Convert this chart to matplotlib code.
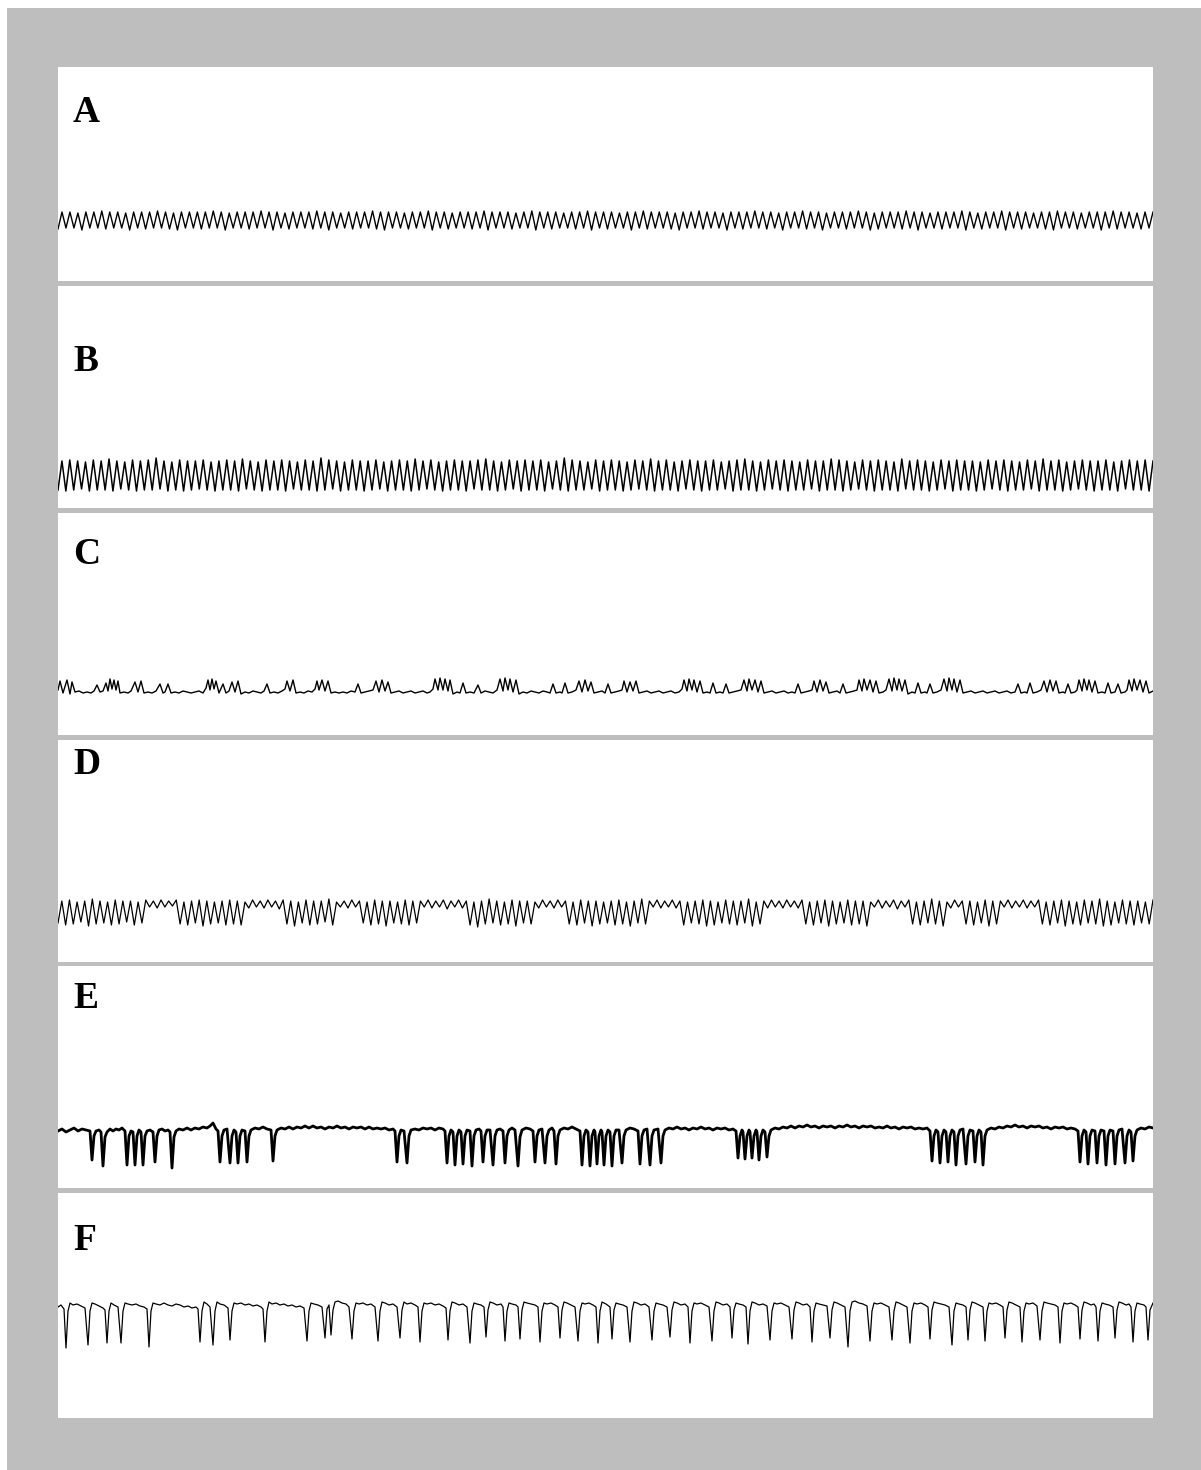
import matplotlib.pyplot as plt
from matplotlib.patches import Rectangle
import numpy as np

# ---- traces (deflection in px, positive = up) ----
# A: regular oscillation, one peak/trough per cycle
A_peaks = [
    8, 8, 7, 8, 8, 9, 8, 8, 7, 8, 8, 8, 9, 8, 7, 8, 8, 8, 8, 9, 8, 7, 8,
    8, 8, 9, 8, 8, 7, 8, 8, 8, 9, 8, 8, 7, 8, 8, 8, 9, 8, 8, 8, 7, 8, 8,
    9, 8, 8, 7, 8, 8, 8, 9, 8, 8, 8, 7, 8, 9, 8, 8, 8, 7, 8, 8, 9, 8, 8,
    8, 7, 8, 8, 9, 8, 8, 8, 7, 8, 8, 9, 8, 8, 7, 8, 8, 8, 9, 8, 8, 7, 8,
    8, 9, 8, 8, 7, 8, 8, 8, 9, 8, 7, 8, 8, 8, 9, 8, 8, 7, 8, 8, 8, 9, 8,
    7, 8, 8, 9, 8, 8, 8, 7, 8, 8, 9, 8, 8, 7, 8, 8, 8, 9, 8, 8, 7, 8, 8,
]
A_troughs = [
    -9, -8, -8, -10, -8, -8, -9, -8, -8, -10, -8, -9, -8, -8, -9, -10, -8, -8, -9, -8, -8, -10, -8,
    -8, -9, -8, -8, -10, -8, -9, -8, -8, -9, -8, -10, -8, -8, -9, -8, -8, -9, -10, -8, -8, -9, -8,
    -8, -10, -8, -9, -8, -8, -9, -8, -10, -8, -8, -9, -8, -8, -10, -8, -9, -8, -8, -9, -8, -10, -8,
    -9, -8, -8, -10, -8, -9, -8, -8, -9, -10, -8, -8, -9, -8, -8, -10, -8, -9, -8, -8, -9, -8, -10,
    -8, -8, -9, -8, -10, -8, -8, -9, -8, -8, -10, -9, -8, -8, -9, -8, -10, -8, -8, -9, -8, -8, -10,
    -8, -9, -8, -8, -10, -8, -9, -8, -8, -9, -10, -8, -8, -9, -8, -8, -10, -8, -9, -8, -8, -9, -8,
]

# B: faster, larger oscillation
B_peaks = [
    14, 15, 14, 13, 15, 14, 16, 14, 13, 15, 14, 15, 17, 14, 13, 15, 14, 14, 15, 13,
    14, 15, 14, 16, 14, 13, 15, 14, 15, 14, 13, 15, 14, 17, 15, 14, 13, 15, 14, 14,
    15, 13, 14, 15, 14, 16, 14, 15, 13, 14, 15, 14, 14, 15, 16, 14, 13, 15, 14, 15,
    14, 15, 13, 14, 17, 15, 14, 13, 15, 14, 15, 14, 13, 15, 14, 16, 14, 15, 13, 14,
    15, 14, 14, 15, 13, 14, 15, 16, 14, 13, 15, 14, 15, 14, 13, 15, 14, 14, 16, 15,
    14, 13, 15, 14, 15, 14, 13, 16, 14, 15, 14, 13, 15, 14, 15, 14, 14, 13, 15, 14,
    15, 14, 13, 15, 14, 16, 14, 15, 13, 14, 15, 14, 14, 15, 13, 14, 15, 14, 15, 14,
]
B_troughs = [
    -15, -16, -15, -14, -16, -15, -15, -16, -14, -15, -16, -15, -15, -14, -16, -15, -16, -15, -14, -15,
    -16, -15, -15, -16, -14, -15, -16, -15, -15, -16, -14, -15, -15, -16, -15, -14, -16, -15, -15, -16,
    -15, -14, -16, -15, -15, -16, -15, -14, -15, -16, -15, -15, -16, -14, -15, -15, -16, -15, -14, -16,
    -15, -15, -16, -14, -15, -16, -15, -15, -14, -16, -15, -15, -16, -15, -14, -15, -16, -15, -15, -16,
    -14, -15, -16, -15, -15, -14, -16, -15, -15, -16, -15, -14, -15, -16, -15, -15, -14, -16, -15, -15,
    -16, -15, -14, -15, -16, -15, -15, -16, -14, -15, -15, -16, -15, -14, -16, -15, -15, -16, -15, -14,
    -15, -16, -15, -15, -14, -16, -15, -15, -16, -15, -14, -15, -16, -15, -15, -16, -14, -15, -15, -16,
]

# C: bursts of spikes on a flat baseline, (time, value)
C_points = [
    (0, 2), (2, 11), (5, -1), (9, 12), (12, -2), (14, 10), (17, 0), (21, 1), (25, -1), (29, 0),
    (33, -1), (36, 1), (39, 7), (42, 0), (45, 1), (48, 9), (50, 1), (52, 13), (54, 3), (56, 12),
    (58, 2), (60, 11), (62, -1), (66, 0), (70, -1), (73, 1), (77, 10), (80, 0), (83, 11), (86, -1),
    (90, 0), (94, -1), (98, 1), (102, 8), (105, -1), (107, 0), (110, 8), (113, -1), (117, 0), (121, -1),
    (125, 1), (129, 0), (133, -1), (137, 0), (141, 1), (145, -1), (148, 4), (150, 12), (152, 2), (154, 13),
    (156, 3), (158, 11), (161, -1), (165, 8), (168, -1), (171, 1), (174, 10), (177, 0), (180, 11), (183, -2),
    (187, 0), (191, -1), (195, 1), (199, 0), (203, -1), (206, 1), (209, 8), (212, -1), (216, 0), (220, -1),
    (224, 1), (227, 3), (229, 11), (232, 1), (235, 12), (238, -1), (242, 0), (246, -1), (250, 1), (254, 0),
    (257, 3), (259, 11), (261, 2), (264, 12), (267, 1), (270, 11), (273, -1), (277, 0), (281, -1),
    (285, 0), (289, -1), (293, 1), (297, 0), (300, 8), (303, -1), (307, 0), (311, 1), (315, 2), (318, 11),
    (321, 0), (324, 12), (327, 1), (330, 10), (333, -1), (337, 0), (341, 1), (345, -1), (349, 0), (353, 1),
    (357, -1), (361, 0), (365, 1), (369, -1), (372, 0), (375, 3), (377, 13), (380, 2), (382, 14), (385, 2),
    (387, 13), (390, 1), (392, 12), (395, -2), (399, 0), (402, -1), (405, 9), (408, -1), (412, 0), (416, -1),
    (420, 7), (423, -1), (427, 1), (431, 0), (435, -1), (439, 2), (442, 13), (445, 1), (447, 14), (450, 2),
    (452, 13), (455, 0), (458, 12), (461, -2), (465, 0), (469, -1), (473, 1), (477, 0), (481, -1), (485, 1),
    (489, 0), (492, -1), (495, 8), (498, -1), (502, 0), (504, -1), (507, 9), (510, -1), (514, 0), (518, 2),
    (521, 11), (524, 0), (527, 12), (530, 1), (533, 10), (536, -1), (540, 0), (544, 1), (547, -1), (550, 8),
    (553, -1), (557, 0), (561, 1), (564, 2), (566, 11), (569, 0), (572, 10), (575, 1), (578, 11), (581, -1),
    (585, 0), (589, 1), (593, -1), (597, 0), (601, 1), (605, -1), (609, 0), (613, 1), (617, -1), (621, 0),
    (624, 3), (626, 12), (629, 1), (631, 13), (634, 2), (636, 12), (639, 0), (642, 11), (645, -1), (649, 0),
    (652, -1), (655, 9), (658, -1), (662, 0), (665, -1), (668, 8), (671, -1), (675, 0), (679, 1), (683, 2),
    (686, 12), (689, 1), (691, 13), (694, 2), (697, 12), (700, 0), (703, 11), (706, -1), (710, 0), (714, 1),
    (718, -1), (722, 0), (726, 1), (730, -1), (734, 0), (737, -1), (740, 8), (743, -1), (747, 0), (751, 1),
    (754, 2), (756, 11), (759, 0), (762, 12), (765, 1), (768, 10), (771, -1), (775, 0), (779, 1), (782, -1),
    (785, 8), (788, -1), (792, 0), (796, 1), (799, 2), (801, 12), (804, 1), (806, 13), (809, 2), (812, 12),
    (815, 0), (818, 11), (821, -1), (825, 0), (828, 2), (831, 13), (834, 1), (836, 14), (839, 2), (841, 13),
    (844, 1), (847, 12), (850, -2), (854, 0), (857, -1), (860, 9), (863, -1), (867, 0), (869, -1), (872, 8),
    (875, -1), (879, 0), (883, 2), (886, 13), (889, 1), (891, 14), (894, 2), (896, 13), (899, 0), (902, 12),
    (905, -1), (909, 0), (913, 1), (917, -1), (921, 0), (925, 1), (929, -1), (933, 0), (937, 1), (941, -1),
    (945, 0), (949, 1), (953, -1), (957, 0), (960, 8), (963, -1), (967, 0), (969, -1), (972, 9), (975, -1),
    (979, 0), (983, 2), (986, 11), (989, 0), (992, 12), (995, 1), (998, 11), (1001, -1), (1005, 0), (1007, -1),
    (1010, 8), (1013, -1), (1017, 0), (1019, 2), (1021, 12), (1024, 1), (1026, 13), (1029, 2), (1031, 12), (1034, 0),
    (1037, 11), (1040, -1), (1044, 0), (1047, -1), (1050, 9), (1053, -1), (1057, 0), (1060, 8), (1063, -1), (1067, 0),
    (1069, 2), (1071, 12), (1074, 1), (1076, 13), (1079, 2), (1082, 12), (1085, 0), (1088, 11), (1091, -1), (1095, 1),
]

# D: large oscillation with short low-amplitude runs
D_peaks = [
    2, 3, 1, 2, 4, 2, 1, 3, 2, 2, 1, 3, 2, 3, 2, 3, 1, 2, 3, 2, 1, 2, 3, 2,
    1, 3, 2, 3, 2, 3, 2, 1, 3, 2, 2, 4, 1, 2, 3, 2, 1, 3, 2, 2, 1, 3, 2, 2,
    3, 2, 3, 2, 3, 2, 1, 2, 4, 2, 1, 3, 2, 2, 1, 3, 2, 3, 2, 1, 3, 2, 2, 1,
    2, 3, 1, 2, 4, 2, 3, 2, 3, 2, 1, 2, 3, 2, 1, 3, 2, 2, 4, 1, 2, 3, 2, 3,
    2, 3, 1, 2, 3, 2, 1, 3, 2, 2, 1, 3, 2, 3, 2, 3, 1, 2, 4, 2, 1, 3, 2, 2,
    1, 3, 2, 2, 3, 2, 3, 2, 3, 1, 2, 3, 2, 1, 3, 2, 4, 2, 1, 3, 2, 2, 1, 3,
]
D_troughs = [
    -20, -22, -21, -19, -23, -21, -20, -22, -21, -19, -22, -20, -4, -5, -4, -3, -21, -22, -20, -23, -21, -20, -22, -21,
    -22, -5, -4, -5, -4, -6, -21, -23, -20, -22, -21, -19, -22, -4, -5, -4, -20, -22, -21, -23, -20, -21, -22, -20,
    -4, -5, -4, -6, -4, -5, -22, -24, -21, -20, -22, -21, -23, -20, -21, -5, -4, -5, -4, -21, -22, -20, -23, -21,
    -20, -22, -21, -23, -20, -21, -4, -5, -4, -5, -22, -20, -21, -23, -22, -20, -21, -22, -20, -23, -21, -5, -4, -5,
    -4, -5, -21, -22, -20, -23, -21, -20, -22, -21, -23, -4, -5, -4, -6, -4, -21, -22, -20, -21, -23, -5, -4, -21,
    -22, -20, -23, -21, -4, -5, -4, -5, -4, -21, -22, -20, -23, -21, -22, -20, -21, -23, -22, -20, -21, -22, -20, -21,
]

# E: clusters of deep dips on a noisy baseline, (time, value)
E_points = [
    (0, 1), (4, 3), (8, 0), (12, 2), (16, 4), (20, 1), (24, 3), (28, 2), (32, 1),
    (34, -28), (36, -4), (38, 1), (41, 2), (43, 0), (45, -34), (47, -5), (49, 0), (52, 3), (55, 1), (58, 3),
    (61, 2), (64, 4), (67, 1), (69, -33), (71, -4), (73, 1), (75, 0), (77, -33), (79, -4), (81, 2),
    (83, 0), (85, -33), (87, -4), (89, 1), (92, 2), (95, 0), (97, -30), (99, -4), (101, 2), (104, 3),
    (107, 1), (110, 2), (112, 0), (114, -36), (116, -5), (118, 1), (121, 3), (125, 2), (129, 4), (133, 2),
    (137, 4), (141, 3), (145, 5), (149, 4), (152, 6), (155, 9), (158, 3), (160, 1),
    (162, -30), (164, -4), (166, 2), (169, 3), (172, -31), (174, -4), (176, 2), (178, 0), (180, -31), (182, -4),
    (184, 2), (187, 1), (189, -30), (191, -4), (193, 2), (197, 4), (201, 3), (205, 5), (209, 3), (213, 2),
    (215, -29), (217, -4), (219, 2), (223, 4), (227, 3), (231, 5), (235, 3), (239, 5), (243, 4), (247, 6),
    (251, 4), (255, 6), (259, 4), (263, 5), (267, 3), (271, 5), (275, 4), (279, 6), (283, 4), (287, 5),
    (291, 3), (295, 5), (299, 4), (303, 5), (307, 3), (311, 5), (315, 3), (319, 4), (323, 3), (327, 4),
    (331, 2), (335, 3), (337, 1),
    (339, -30), (341, -4), (343, 2), (346, 1), (349, -31), (351, -4), (353, 2), (357, 3), (361, 2), (365, 4),
    (369, 3), (373, 4), (377, 2), (381, 4), (385, 3), (387, 1),
    (389, -31), (391, -4), (393, 2), (395, 0), (397, -33), (399, -4), (401, 2), (403, 0), (405, -32), (407, -4),
    (409, 2), (412, 1), (414, -34), (416, -4), (418, 2), (421, 3), (423, 1), (425, -30), (427, -4), (429, 2),
    (432, 2), (435, -33), (437, -4), (439, 2), (442, 3), (445, 1), (447, -31), (449, -4), (451, 2), (454, 4),
    (457, 2), (460, -34), (462, -5), (464, 2), (468, 4), (472, 3), (475, 1),
    (477, -30), (479, -4), (481, 2), (484, 3), (487, -31), (489, -4), (491, 2), (494, 4), (496, 1), (498, -32),
    (500, -4), (502, 2), (506, 4), (510, 3), (514, 5), (518, 3), (522, 1),
    (524, -33), (526, -4), (528, 2), (530, 0), (532, -34), (534, -4), (536, 2), (537, 0), (539, -32), (541, -4),
    (543, 2), (544, 0), (546, -33), (548, -4), (550, 2), (552, 0), (554, -34), (556, -4), (558, 2), (561, 2),
    (564, -31), (566, -4), (568, 2), (572, 4), (576, 3), (580, 1),
    (582, -32), (584, -4), (586, 2), (589, 3), (592, -33), (594, -4), (596, 2), (600, 3), (603, -31), (605, -4),
    (607, 2), (611, 4), (615, 3), (619, 5), (623, 3), (627, 4), (631, 2), (635, 4), (639, 3), (643, 5),
    (647, 3), (651, 4), (655, 2), (659, 4), (663, 3), (667, 4), (671, 2), (675, 3), (678, 1),
    (680, -26), (682, -4), (684, 2), (685, 0), (687, -27), (689, -4), (691, 2), (692, 0), (694, -26), (696, -4),
    (698, 2), (699, 0), (701, -28), (703, -4), (705, 2), (707, 0), (709, -25), (711, -4), (713, 2), (717, 4),
    (721, 3), (725, 5), (729, 4), (733, 6), (737, 4), (741, 6), (745, 5), (749, 7), (753, 5), (757, 6),
    (761, 4), (765, 6), (769, 5), (773, 6), (777, 4), (781, 6), (785, 5), (789, 7), (793, 5), (797, 6),
    (801, 4), (805, 6), (809, 5), (813, 6), (817, 4), (821, 5), (825, 4), (829, 6), (833, 4), (837, 5),
    (841, 3), (845, 5), (849, 4), (853, 5), (857, 3), (861, 4), (865, 3), (869, 4), (872, 1),
    (874, -29), (876, -4), (878, 2), (880, 0), (882, -31), (884, -4), (886, 2), (888, 0), (890, -30), (892, -4),
    (894, 2), (896, 0), (898, -33), (900, -4), (902, 2), (905, 3), (908, -32), (910, -4), (912, 2), (915, 1),
    (917, -30), (919, -4), (921, 2), (923, 0), (925, -33), (927, -4), (929, 2), (933, 4), (937, 3), (941, 5),
    (945, 4), (949, 6), (953, 5), (957, 7), (961, 5), (965, 6), (969, 4), (973, 6), (977, 5), (981, 6),
    (985, 4), (989, 5), (993, 3), (997, 5), (1001, 4), (1005, 5), (1009, 3), (1013, 4), (1017, 3), (1020, 1),
    (1022, -30), (1024, -4), (1026, 2), (1028, 0), (1030, -32), (1032, -4), (1034, 2), (1037, 1), (1039, -31), (1041, -4),
    (1043, 2), (1046, 1), (1048, -33), (1050, -4), (1052, 2), (1055, 1), (1057, -32), (1059, -4), (1061, 2), (1064, 3),
    (1067, -31), (1069, -4), (1071, 2), (1073, 0), (1075, -29), (1077, -4), (1079, 2), (1083, 4), (1087, 3), (1091, 5),
    (1095, 4),
]

# F: regularly spaced sharp downward spikes, (time, value)
F_points = [
    (0, -2), (3, 0), (6, -4), (8, -43), (10, -6), (12, 2), (15, 0), (19, 1), (23, -1), (27, -3),
    (30, -40), (32, -6), (34, 2), (37, 1), (41, -1), (45, -3), (47, -5), (49, -38), (51, -6), (53, 2),
    (56, 0), (60, -2), (63, -38), (65, -6), (67, 2), (70, 1), (74, 0), (78, 1), (82, -1), (86, -2),
    (89, -4), (91, -42), (93, -6), (95, 2), (98, 1), (102, 0), (106, 2), (110, 0), (114, -1), (118, 1),
    (122, 0), (126, -2), (130, -1), (134, -3), (138, -2), (140, -4), (142, -37), (144, -6), (146, 3), (149, 1),
    (152, -2), (155, -40), (157, -6), (159, 3), (162, 1), (166, 0), (170, -3), (172, -35), (174, -6), (176, 2),
    (179, 1), (183, 2), (187, 0), (191, 1), (195, -1), (199, 0), (203, -2), (205, -4), (207, -37), (209, -6),
    (211, 3), (214, 1), (218, 2), (222, 0), (226, 1), (230, -1), (234, 0), (238, -2), (242, -1), (246, -3),
    (249, -36), (251, -6), (253, 2), (256, 1), (260, 0), (264, -2), (267, -33), (269, -4), (271, 0), (273, -30),
    (275, -5), (277, 3), (280, 4), (284, 2), (288, 1), (291, -2), (294, -34), (296, -6), (298, 2), (301, 1),
    (305, 2), (309, 0), (313, 1), (317, -2), (320, -36), (322, -6), (324, 3), (327, 2), (331, 0), (335, 1),
    (339, -2), (342, -33), (344, -5), (346, 3), (349, 1), (353, 2), (357, 0), (360, -2), (362, -37), (364, -6),
    (366, 2), (369, 1), (373, 2), (377, 0), (381, 1), (385, -1), (388, -3), (390, -35), (392, -6), (394, 3),
    (397, 2), (401, 0), (405, 1), (409, -2), (412, -38), (414, -6), (416, 2), (419, 1), (423, 0), (426, -2),
    (428, -32), (430, -5), (432, 3), (435, 2), (439, 0), (443, 1), (445, -2), (447, -36), (449, -6), (451, 2),
    (454, 1), (458, 0), (460, -2), (462, -34), (464, -5), (466, 3), (469, 2), (473, 1), (477, 0), (480, -2),
    (482, -37), (484, -6), (486, 2), (489, 1), (493, 2), (497, 0), (500, -2), (502, -33), (504, -5), (506, 3),
    (509, 2), (513, 0), (517, -2), (520, -36), (522, -6), (524, 2), (527, 1), (531, 2), (535, 0), (538, -2),
    (540, -38), (542, -6), (544, 3), (548, 1), (552, -2), (554, -34), (556, -5), (558, 2), (561, 1), (565, 0),
    (569, -2), (572, -37), (574, -6), (576, 3), (579, 2), (583, 0), (587, 1), (591, -2), (594, -35), (596, -6),
    (598, 2), (601, 1), (605, 0), (609, -2), (612, -32), (614, -5), (616, 3), (619, 2), (623, 0), (627, 1),
    (630, -2), (632, -38), (634, -6), (636, 2), (639, 1), (643, 2), (647, 0), (651, -2), (654, -36), (656, -6),
    (658, 3), (661, 2), (665, 0), (669, 1), (672, -2), (674, -33), (676, -5), (678, 2), (681, 1), (685, 0),
    (688, -2), (690, -39), (692, -6), (694, 3), (697, 2), (701, 0), (705, 1), (709, -1), (712, -35), (714, -6),
    (716, 2), (719, 1), (723, 2), (727, 0), (731, -2), (734, -34), (736, -5), (738, 3), (741, 2), (745, 0),
    (749, 1), (752, -2), (754, -37), (756, -6), (758, 2), (761, 1), (765, 0), (769, -1), (772, -33), (774, -5),
    (776, 3), (779, 2), (783, 0), (787, -2), (790, -42), (792, -6), (794, 3), (797, 4), (801, 2), (805, 1),
    (809, -1), (812, -36), (814, -6), (816, 2), (819, 1), (823, 2), (827, 0), (831, -2), (834, -35), (836, -6),
    (838, 3), (841, 2), (845, 0), (849, -2), (852, -38), (854, -6), (856, 2), (859, 1), (863, 2), (867, 0),
    (870, -2), (872, -34), (874, -5), (876, 3), (879, 2), (883, 1), (887, 0), (891, -2), (894, -40), (896, -6),
    (898, 2), (901, 1), (905, 0), (908, -2), (910, -35), (912, -5), (914, 3), (917, 2), (921, 0), (925, -2),
    (927, -36), (929, -6), (931, 2), (934, 1), (938, 2), (942, 0), (945, -2), (947, -33), (949, -5), (951, 3),
    (954, 2), (958, 0), (962, -2), (964, -37), (966, -6), (968, 2), (971, 1), (975, 2), (979, -1), (982, -35),
    (984, -6), (986, 3), (989, 2), (993, 1), (997, 0), (1000, -2), (1002, -38), (1004, -6), (1006, 2), (1009, 1),
    (1013, 2), (1017, 0), (1020, -2), (1022, -34), (1024, -5), (1026, 3), (1029, 2), (1033, 0), (1036, 1), (1038, -2),
    (1040, -36), (1042, -6), (1044, 2), (1047, 1), (1051, 0), (1055, -2), (1057, -33), (1059, -5), (1061, 3), (1064, 2),
    (1068, 0), (1071, 1), (1073, -2), (1075, -37), (1077, -6), (1079, 2), (1082, 1), (1086, 0), (1088, -2), (1090, -35),
    (1092, -5), (1095, 2),
]

panel_labels = ['A', 'B', 'C', 'D', 'E', 'F']


def alternate(troughs, peaks):
    # trough, peak, trough, peak ... sampled once per half cycle
    vals = [v for pair in zip(troughs, peaks) for v in pair]
    return np.arange(len(vals)), np.array(vals)


def split(points):
    arr = np.array(points, dtype=float)
    return arr[:, 0], arr[:, 1]


traces = [
    alternate(A_troughs, A_peaks),
    alternate(B_troughs, B_peaks),
    split(C_points),
    alternate(D_troughs, D_peaks),
    split(E_points),
    split(F_points),
]

# layout in pixels: panel top, panel bottom, trace reference line, label baseline, line width
W, H = 1201, 1470
X0, X1 = 58, 1153
layout = [
    (67, 281, 220, 122, 1.0),
    (286, 508, 475, 371, 1.1),
    (513, 735, 692, 564, 1.0),
    (740, 962, 903, 774, 0.9),
    (966, 1188, 1132, 1008, 2.0),
    (1193, 1418, 1305, 1250, 0.9),
]

fig = plt.figure(figsize=(W / 100, H / 100), dpi=100, facecolor='white')
fig.add_artist(Rectangle((7 / W, 0), 1 - 7 / W, 1 - 8 / H, transform=fig.transFigure,
                         facecolor='#bebebe', edgecolor='none', zorder=-1))

for label, (t, v), (top, bottom, yref, base, lw) in zip(panel_labels, traces, layout):
    ax = fig.add_axes([X0 / W, 1 - bottom / H, (X1 - X0) / W, (bottom - top) / H])
    ax.set_facecolor('white')
    ax.plot(t, v, color='black', lw=lw)
    ax.set_xlim(t[0], t[-1])
    ax.set_ylim(yref - bottom, yref - top)
    ax.set_xticks([])
    ax.set_yticks([])
    for s in ax.spines.values():
        s.set_visible(False)
    fig.text(73 / W, 1 - base / H, label, fontsize=27, fontweight='bold',
             family='Liberation Serif', va='baseline', ha='left')

fig.savefig('out.png', dpi=100, facecolor='white')
